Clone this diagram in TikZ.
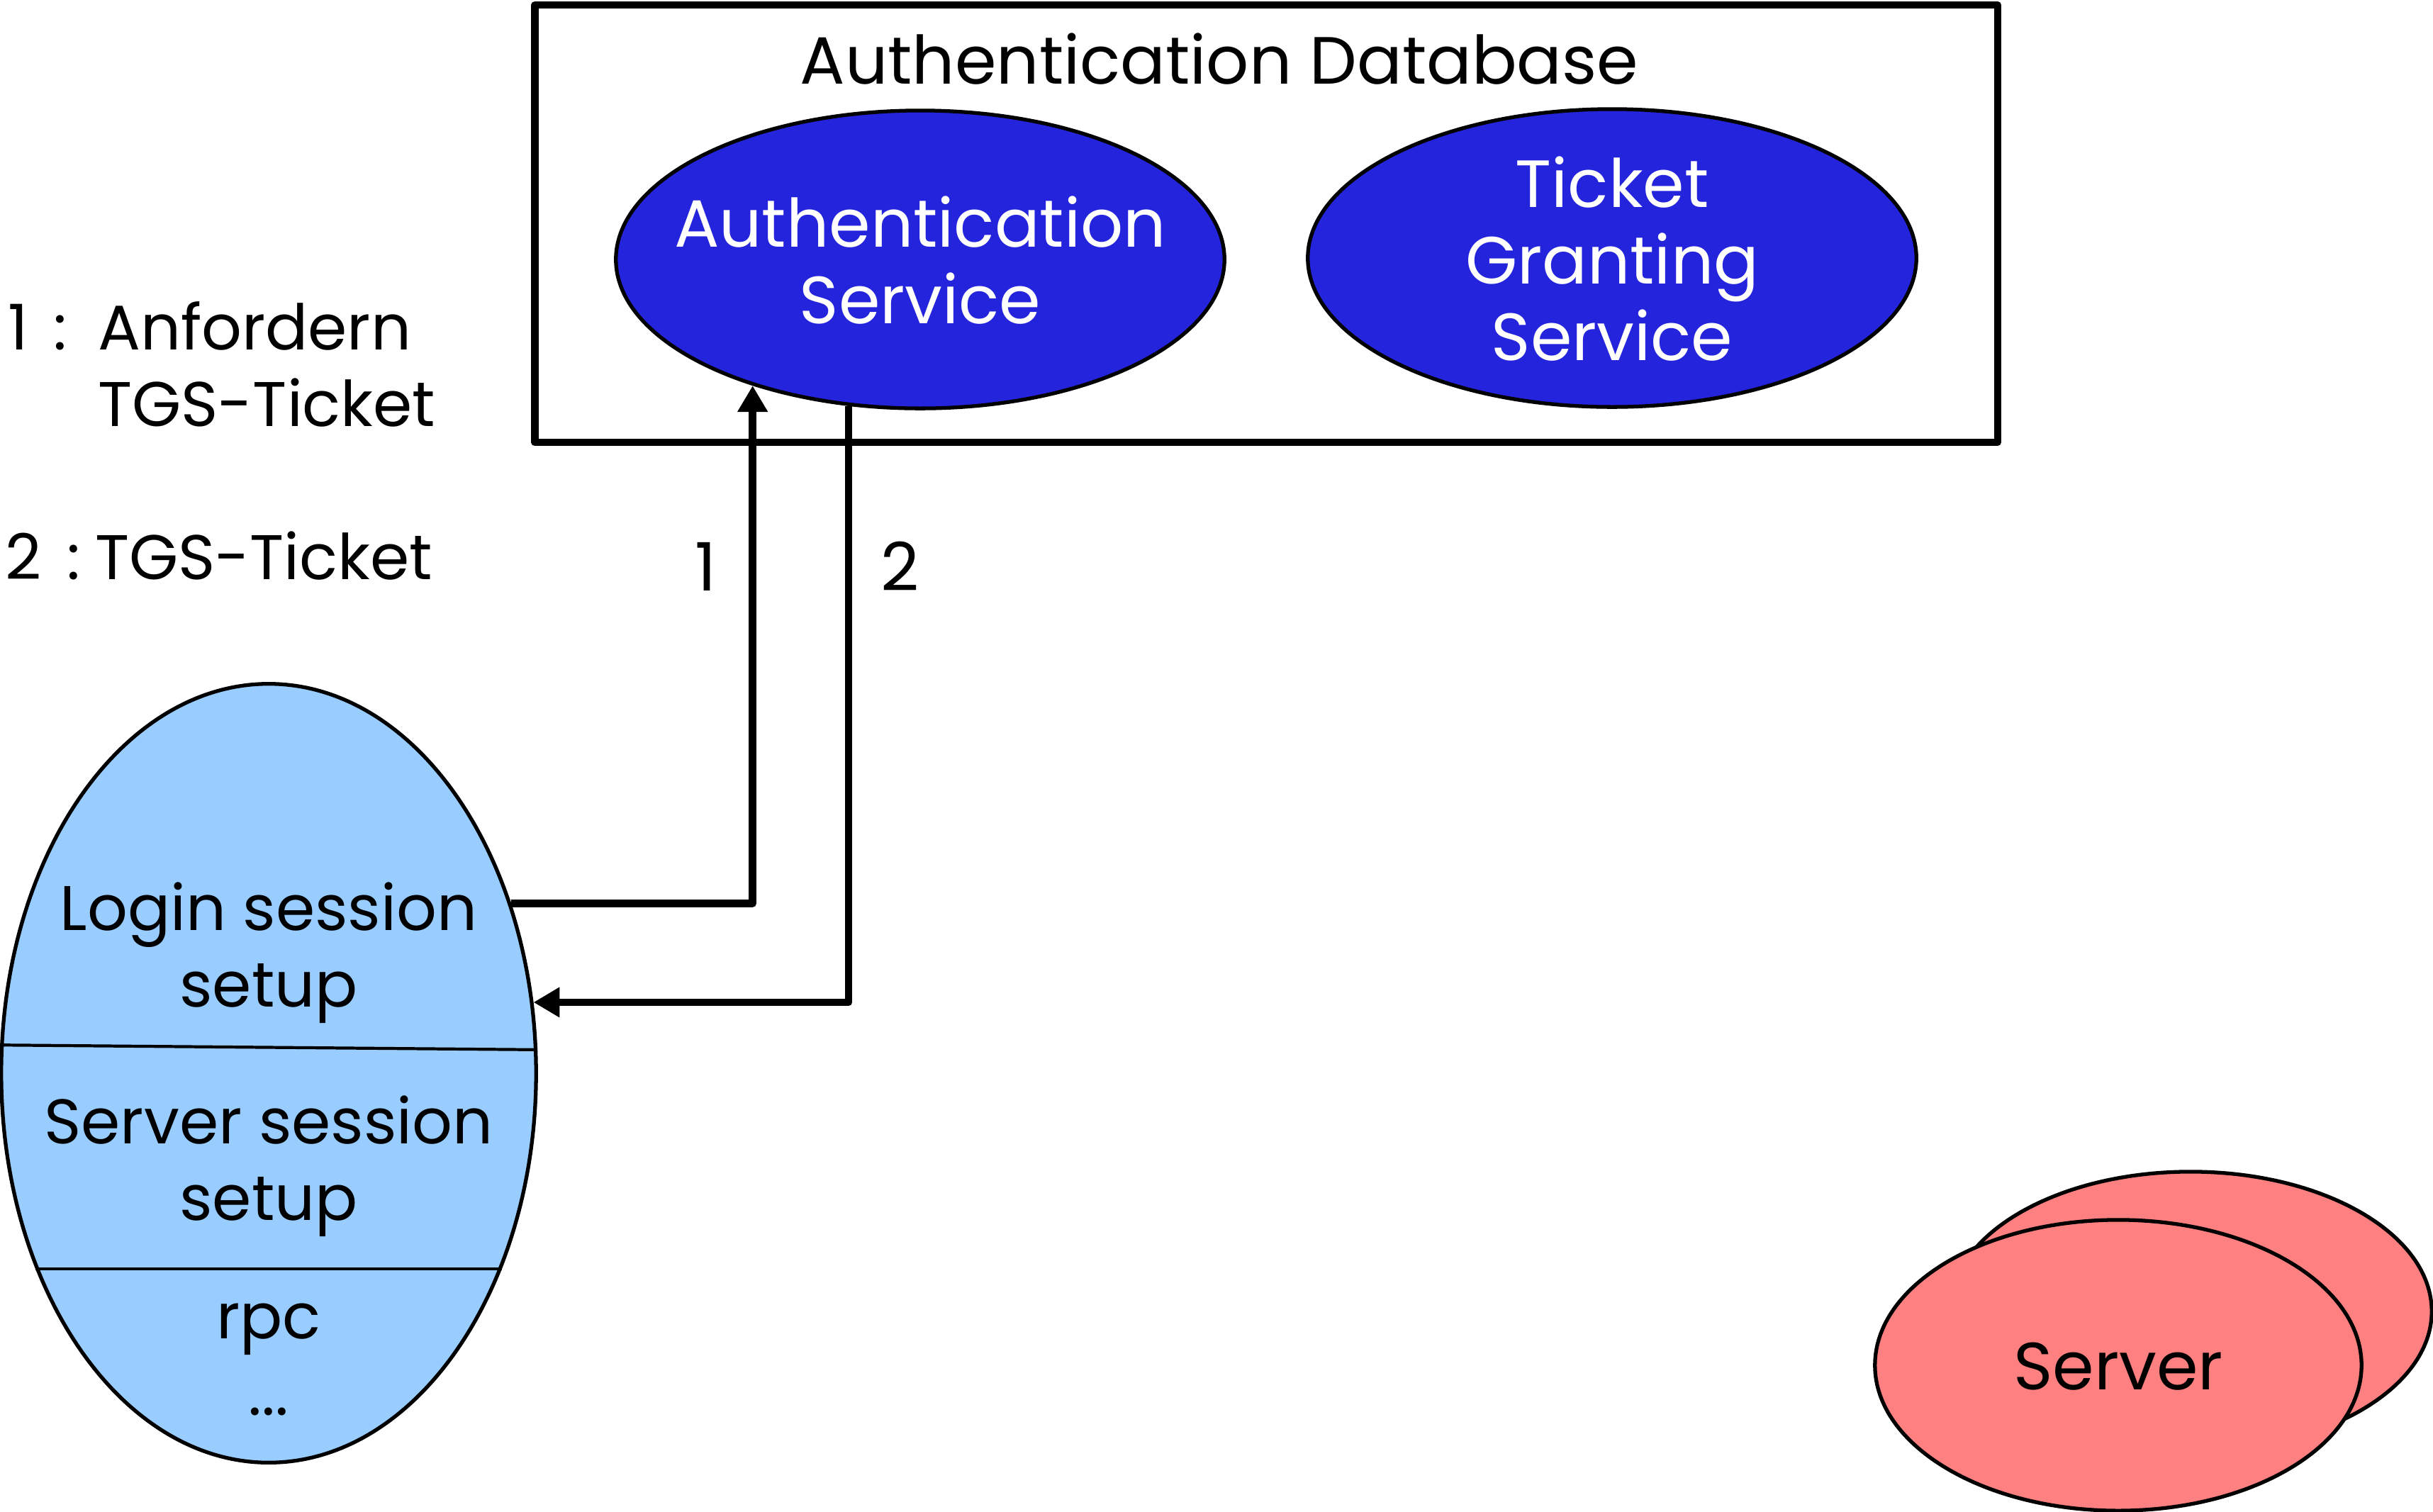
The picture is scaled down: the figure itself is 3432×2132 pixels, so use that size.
\documentclass[tikz,border=0pt]{standalone}
\usepackage{fontspec}
\setmainfont{Poppins}
\usetikzlibrary{shapes.geometric,arrows.meta}
\definecolor{asblue}{RGB}{36,36,220}
\definecolor{clientblue}{RGB}{153,204,255}
\definecolor{serverred}{RGB}{255,128,128}
\newcommand{\myfont}{\fontsize{26.8pt}{30.8pt}\selectfont}
\newcommand{\myfontsm}{\fontsize{25.3pt}{30.8pt}\selectfont}
\begin{document}
\begin{tikzpicture}[x=0.01cm,y=-0.01cm,
  txt/.style={inner sep=0pt, align=center, font=\myfont},
  txtsm/.style={inner sep=0pt, align=center, font=\myfontsm},
  ell/.style={ellipse, draw=black, line width=1.5pt, inner sep=0pt},
  sep/.style={line width=1.2pt},
  arr/.style={line width=3pt, line join=round, -{Triangle[length=10.5pt,width=11.5pt]}},
  dbbox/.style={draw=black, line width=2.9pt, line join=round, inner sep=0pt}]
\useasboundingbox (0,0) rectangle (3432,2132);

% Authentication database box
\node[dbbox, minimum width=20.62cm, minimum height=6.17cm] (db) at (1786,315.5) {};
\node[txt] (dbtitle) at (1720,83) {Authentication Database};

% Authentication service and TGS
\node[ell, fill=asblue, minimum width=8.58cm, minimum height=4.20cm] (as) at (1298,366) {};
\node[txt, text=white] (astext) at (1298,367) {Authentication\\Service};
\node[ell, fill=asblue, minimum width=8.58cm, minimum height=4.20cm] (tgs) at (2274,364) {};
\node[txt, text=white] (tgstext) at (2274,365) {Ticket\\Granting\\Service};

% Legend
\node[txtsm, align=left, anchor=west] (leg1) at (11,514) {\makebox[36pt][l]{1\hspace{0.4em}:}Anfordern\\\hspace*{36pt}TGS-Ticket};
\node[txtsm, align=left, anchor=west] (leg2) at (7,784) {\makebox[36pt][l]{2\hspace{0.4em}:}TGS-Ticket};

% Client
\node[ell, fill=clientblue, minimum width=7.54cm, minimum height=10.98cm] (client) at (379,1514) {};
\draw[sep] (client.174.84) -- (client.5.16);
\draw[sep] (client.220.12) -- (client.-40.12);
\node[txtsm] (login) at (379,1344) {Login session\\setup};
\node[txtsm] (srvsess) at (379,1645) {Server session\\setup};
\node[txtsm] (rpc) at (379,1918) {rpc\\...};

% Arrows
\draw[arr] (client.35.3) -| (as.217.28);
\draw[arr] (as.244.88) |- (client.15.4);
\node[txt] (l1) at (996,799) {1};
\node[txt] (l2) at (1270,799) {2};

% Servers
\node[ell, fill=serverred, minimum width=6.80cm, minimum height=3.94cm] (srvback) at (3090,1850) {};
\node[ell, fill=serverred, minimum width=6.86cm, minimum height=4.10cm] (srvfront) at (2988,1926) {};
\node[txt] (srvtext) at (2988,1928) {Server};
\end{tikzpicture}
\end{document}
